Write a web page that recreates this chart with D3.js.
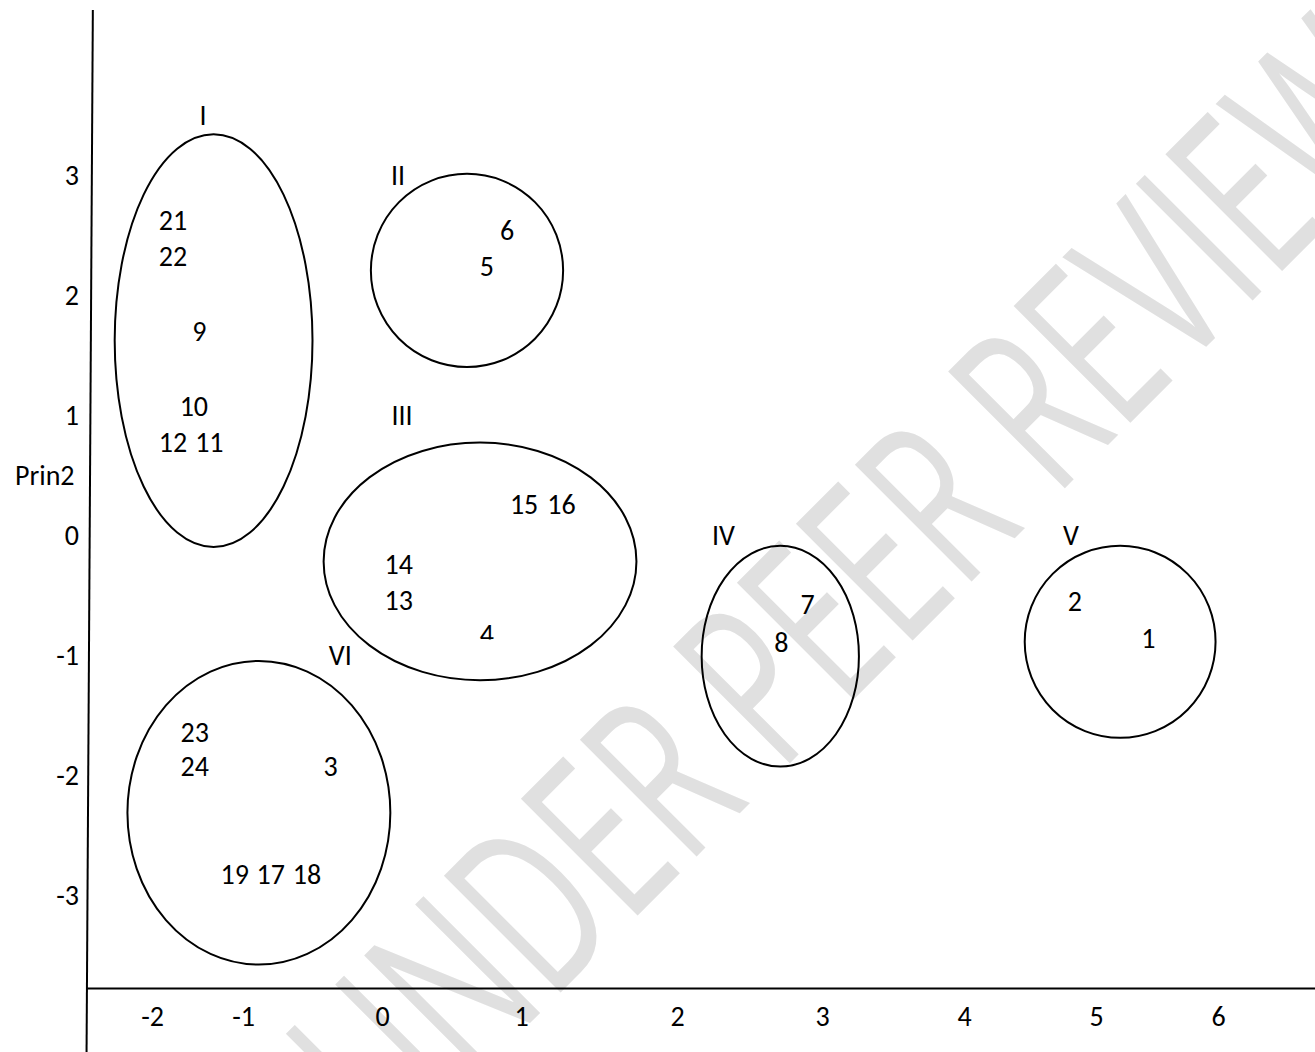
<!DOCTYPE html>
<html>
<head>
<meta charset="utf-8">
<script src="https://cdn.jsdelivr.net/npm/d3@7"></script>
<style>
  body { margin: 0; background: #fff; }
  svg { display: block; }
  text { font-family: Carlito, Calibri, 'Open Sans', sans-serif; }
</style>
</head>
<body>
<div id="chart-area"></div>
<script>
// observations 1..24 (20 is not shown in the plot)
const pointIds = ['1', '2', '3', '4', '5', '6', '7', '8', '9', '10', '11', '12',
  '13', '14', '15', '16', '17', '18', '19', '21', '22', '23', '24'];
const prin1 = [5.43, 4.84, -0.37, 0.755, 0.755, 0.90, 2.90, 2.72, -1.48, -1.54, -1.37, -1.77,
  0.12, 0.12, 1.02, 1.26, -0.80, -0.54, -1.09, -1.77, -1.77, -1.53, -1.53];
const prin2 = [-0.86, -0.55, -1.93, -0.83, 2.24, 2.54, -0.58, -0.89, 1.70, 1.075, 0.775, 0.775,
  -0.54, -0.24, 0.26, 0.26, -2.83, -2.83, -2.83, 2.62, 2.32, -1.64, -1.93];

// clusters drawn as ellipses
const clusterNames = ['I', 'II', 'III', 'IV', 'V', 'VI'];
const clusterLabelX = [-1.44, 0.115, 0.144, 2.32, 4.81, -0.30];
const clusterLabelY = [3.5, 3.0, 1.0, 0, 0, -1.0];
const clusterLeft = [-2.41, -0.08, -0.42, 2.17, 4.46, -2.27];
const clusterRight = [-0.50, 1.27, 1.74, 3.26, 5.98, 0.06];
const clusterTop = [3.34, 3.01, 0.77, -0.09, -0.09, -1.05];
const clusterBottom = [-0.10, 1.40, -1.21, -1.93, -1.69, -3.58];

const xTicks = [-2, -1, 0, 1, 2, 3, 4, 5, 6];
const yTicks = [-3, -2, -1, 0, 1, 2, 3];
const labelY = 'Prin2';
const watermark = 'UNDER PEER REVIEW';

(() => {
  const widthSvg = 1315;
  const heightSvg = 1052;
  const fontSize = 28;
  // the hand-made axis is not evenly spaced
  const tickPixels = [152, 243, 382, 521, 677, 822, 964, 1096, 1218];

  const scaleX = d3.scaleLinear()
    .domain(xTicks)
    .range(tickPixels);

  const scaleY = d3.scaleLinear()
    .domain([0, 1])
    .range([535, 415]);

  const svg = d3.select('#chart-area')
    .append('svg')
      .attr('width', widthSvg)
      .attr('height', heightSvg);

  // watermark behind everything
  svg.append('text')
    .attr('transform', 'translate(393, 1160) rotate(-45) scale(0.65, 1)')
    .attr('font-size', 231)
    .attr('fill', '#e0e0e0')
    .style('font-family', "'Open Sans', sans-serif")
    .text(watermark);

  // axis lines (the vertical one leans slightly)
  const axisLine = d3.line();
  const yBase = scaleY(-3.78);
  svg.append('path')
    .attr('d', axisLine([[scaleX(-2.65), 10], [scaleX(-2.65) - 6.3, heightSvg]]))
    .attr('stroke', '#000')
    .attr('stroke-width', 2)
    .attr('fill', 'none');

  svg.append('path')
    .attr('d', axisLine([[scaleX(-2.72), yBase], [widthSvg, yBase]]))
    .attr('stroke', '#000')
    .attr('stroke-width', 2)
    .attr('fill', 'none');

  const axisX = d3.axisBottom(scaleX)
    .tickValues(xTicks)
    .tickSize(0)
    .tickFormat(d => String(d));

  const axisY = d3.axisLeft(scaleY)
    .tickValues(yTicks)
    .tickSize(0)
    .tickPadding(1)
    .tickFormat(d => String(d));

  const groupAxisX = svg.append('g')
    .attr('transform', `translate(0, ${yBase})`)
    .call(axisX);
  groupAxisX.select('.domain').remove();
  groupAxisX.selectAll('text')
    .attr('y', 1016 - yBase)
    .attr('dy', '0.35em')
    .attr('font-size', fontSize)
    .attr('fill', '#000')
    .style('font-family', null);

  const groupAxisY = svg.append('g')
    .attr('transform', 'translate(80, 0)')
    .call(axisY);
  groupAxisY.select('.domain').remove();
  groupAxisY.selectAll('text')
    .attr('dy', '0.35em')
    .attr('font-size', fontSize)
    .attr('fill', '#000')
    .style('font-family', null);

  svg.append('text')
    .attr('x', 15)
    .attr('y', scaleY(0.5))
    .attr('dy', '0.35em')
    .attr('font-size', fontSize)
    .text(labelY);

  // cluster ellipses
  const clusters = clusterNames.map((name, i) => ({
    name,
    lx: clusterLabelX[i],
    ly: clusterLabelY[i],
    x0: clusterLeft[i],
    x1: clusterRight[i],
    y0: clusterBottom[i],
    y1: clusterTop[i]
  }));

  svg.selectAll('ellipse')
    .data(clusters)
    .enter()
    .append('ellipse')
      .attr('cx', d => (scaleX(d.x0) + scaleX(d.x1)) / 2)
      .attr('cy', d => (scaleY(d.y0) + scaleY(d.y1)) / 2)
      .attr('rx', d => (scaleX(d.x1) - scaleX(d.x0)) / 2)
      .attr('ry', d => (scaleY(d.y0) - scaleY(d.y1)) / 2)
      .attr('fill', 'none')
      .attr('stroke', '#000')
      .attr('stroke-width', 2);

  svg.selectAll('.cluster-label')
    .data(clusters)
    .enter()
    .append('text')
      .attr('class', 'cluster-label')
      .attr('x', d => scaleX(d.lx))
      .attr('y', d => scaleY(d.ly))
      .attr('dy', '0.35em')
      .attr('text-anchor', 'middle')
      .attr('font-size', fontSize)
      .text(d => d.name);

  // observation labels; "4" is cut off by its text box in the original
  const points = pointIds.map((id, i) => ({ id, x: prin1[i], y: prin2[i] }));
  const clipped = '4';

  const clip = points.find(p => p.id === clipped);
  svg.append('clipPath')
    .attr('id', 'clip-4')
    .append('rect')
      .attr('x', scaleX(clip.x) - 20)
      .attr('y', scaleY(clip.y) - 20)
      .attr('width', 40)
      .attr('height', 25);

  svg.selectAll('.point-label')
    .data(points)
    .enter()
    .append('text')
      .attr('class', 'point-label')
      .attr('x', d => scaleX(d.x))
      .attr('y', d => scaleY(d.y))
      .attr('dy', '0.35em')
      .attr('text-anchor', 'middle')
      .attr('font-size', fontSize)
      .attr('clip-path', d => d.id === clipped ? 'url(#clip-4)' : null)
      .text(d => d.id);
})();
</script>
</body>
</html>
